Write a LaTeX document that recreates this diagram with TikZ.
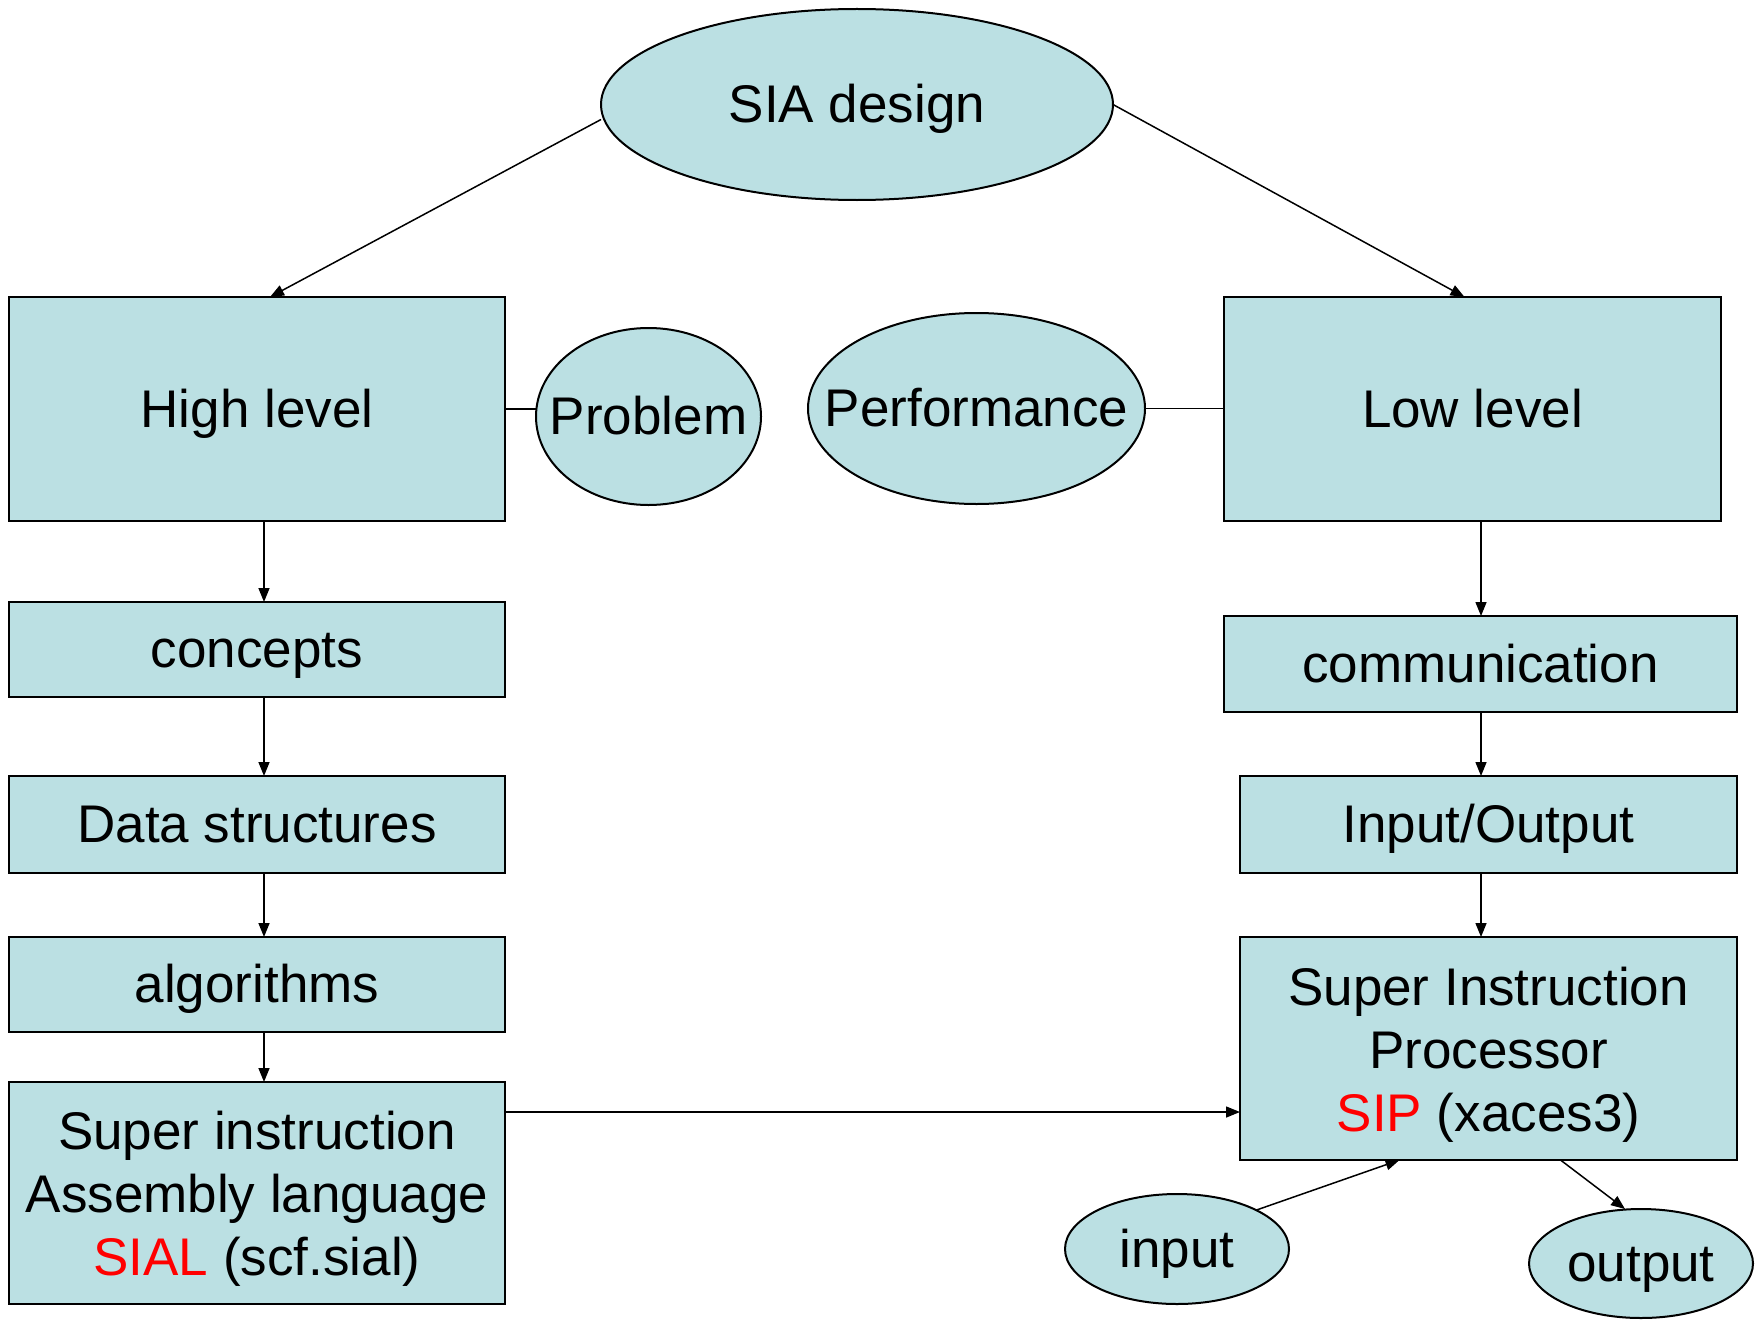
\documentclass[tikz,border=0pt]{standalone}
\usepackage{fontspec}
\setmainfont{Liberation Sans}
\usetikzlibrary{shapes.geometric,arrows.meta,calc}
\definecolor{boxfill}{RGB}{187,224,227}
\definecolor{sred}{RGB}{255,0,0}
\begin{document}
\begin{tikzpicture}[x=1pt,y=-1pt,
  every node/.style={font=\fontsize{53}{63}\selectfont, inner sep=0pt, outer sep=0pt},
  one/.style={text height=48pt, text depth=11.2pt},
  multi/.style={align=center, yshift=-6pt},
  blk/.style={draw=black, line width=2pt, fill=boxfill, rectangle},
  ell/.style={draw=black, line width=2pt, fill=boxfill, ellipse},
  arr/.style={draw=black, line width=1.5pt, -{Triangle[length=14pt,width=11pt]}},
  lnk/.style={draw=black, line width=1.5pt}]
\useasboundingbox (0,0) rectangle (1763,1319);
\fill[white] (0,0) rectangle (1763,1319);

% ellipses
\node[ell, minimum width=512pt, minimum height=191pt, label={[one]center:SIA design}] (sia) at (857,104.5) {};
\node[ell, minimum width=225pt, minimum height=177pt, label={[one]center:Problem}] (problem) at (648.5,416.5) {};
\node[ell, minimum width=337pt, minimum height=191pt, label={[one]center:Performance}] (perf) at (976.5,408.5) {};
\node[ell, minimum width=224pt, minimum height=110pt, label={[one]center:input}] (input) at (1177,1249) {};
\node[ell, minimum width=224pt, minimum height=109pt, label={[one]center:output}] (output) at (1641,1263.5) {};

% left column
\node[blk, minimum width=496pt, minimum height=224pt, label={[one]center:High level}] (high) at (257,409) {};
\node[blk, minimum width=496pt, minimum height=95pt, label={[one]center:concepts}] (concepts) at (257,649.5) {};
\node[blk, minimum width=496pt, minimum height=97pt, label={[one]center:Data structures}] (ds) at (257,824.5) {};
\node[blk, minimum width=496pt, minimum height=95pt, label={[one]center:algorithms}] (alg) at (257,984.5) {};
\node[blk, minimum width=496pt, minimum height=222pt,
  label={[multi]center:{Super instruction\\Assembly language\\\textcolor{sred}{SIAL} (scf.sial)}}] (sial) at (257,1193) {};

% right column
\node[blk, minimum width=497pt, minimum height=224pt, label={[one]center:Low level}] (low) at (1472.5,409) {};
\node[blk, minimum width=513pt, minimum height=96pt, label={[one]center:communication}] (comm) at (1480.5,664) {};
\node[blk, minimum width=497pt, minimum height=97pt, label={[one]center:Input/Output}] (io) at (1488.5,824.5) {};
\node[blk, minimum width=497pt, minimum height=223pt,
  label={[multi]center:{Super Instruction\\Processor\\\textcolor{sred}{SIP} (xaces3)}}] (sip) at (1488.5,1048.5) {};

% helper coordinates
\coordinate (xl) at (264,0);
\coordinate (xr) at (1481,0);
\coordinate (ym) at (0,1112);

% connectors
\draw[arr] ($(sia.west)+(0,15)$) -- ($(high.north)+(13,0)$);
\draw[arr] (sia.east) -- ($(low.north)+(-8,0)$);
\draw[lnk] (high.east) -- (high.east -| problem.west);
\draw[lnk] (perf.east) -- (perf.east -| low.west);

\draw[arr] (high.south -| xl) -- (concepts.north -| xl);
\draw[arr] (concepts.south -| xl) -- (ds.north -| xl);
\draw[arr] (ds.south -| xl) -- (alg.north -| xl);
\draw[arr] (alg.south -| xl) -- (sial.north -| xl);

\draw[arr] (low.south -| xr) -- (comm.north -| xr);
\draw[arr] (comm.south -| xr) -- (io.north -| xr);
\draw[arr] (io.south -| xr) -- (sip.north -| xr);

\draw[arr] (sial.east |- ym) -- (sip.west |- ym);
\draw[arr] (input.north east) -- ($(sip.south)+(-89,0)$);
\draw[arr] ($(sip.south)+(72,0)$) -- ($(output.north)+(-16,0)$);
\end{tikzpicture}
\end{document}
